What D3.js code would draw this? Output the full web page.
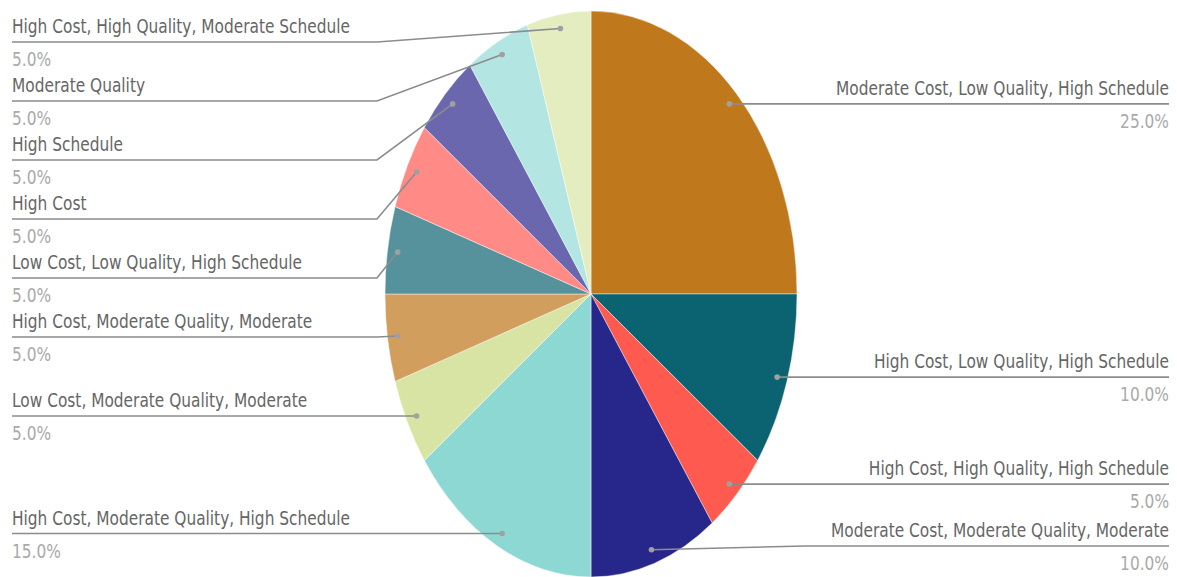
<!DOCTYPE html>
<html>
<head>
<meta charset="utf-8">
<script src="https://cdn.jsdelivr.net/npm/d3@7"></script>
<style>
  html, body { margin: 0; padding: 0; background: #fff; }
  svg { display: block; }
  .lbl { font-family: "DejaVu Sans", Verdana, sans-serif; }
</style>
</head>
<body>
<svg id="chart" width="1177" height="577"></svg>
<script>
// Share of projects by cost / quality / schedule profile
const categories = [
  "Moderate Cost, Low Quality, High Schedule",
  "High Cost, Low Quality, High Schedule",
  "High Cost, High Quality, High Schedule",
  "Moderate Cost, Moderate Quality, Moderate",
  "High Cost, Moderate Quality, High Schedule",
  "Low Cost, Moderate Quality, Moderate",
  "High Cost, Moderate Quality, Moderate",
  "Low Cost, Low Quality, High Schedule",
  "High Cost",
  "High Schedule",
  "Moderate Quality",
  "High Cost, High Quality, Moderate Schedule"
];
const values = [25, 10, 5, 10, 15, 5, 5, 5, 5, 5, 5, 5];
const colors = [
  "#c0781c", "#0b6270", "#ff5a50", "#27268a", "#8ed8d4", "#d8e4a4",
  "#d19e5e", "#55929c", "#ff8a86", "#6a67ae", "#b3e6e2", "#e3edc0"
];

const W = 1177, H = 577;
const cx = 591, cy = 294, rx = 206, ry = 283;
const sy = 1.24;            // vertical stretch applied to the text
const fontSize = 15.4;
const gap = 59;             // minimum vertical distance between label rows
const yMin = 42, yMax = 546;
const elbowOff = 214;
const leftX = 12, rightX = 1169;

const svg = d3.select("#chart");
const total = d3.sum(values);
const fmt = d3.format(".1f");

const data = categories.map((c, i) => ({ name: c, value: values[i], color: colors[i] }));
const pie = d3.pie().sort(null).value(d => d.value);
const arcs = pie(data);

const arc = d3.arc().innerRadius(0).outerRadius(1);

// Elliptical pie: unit-radius arcs scaled into place
const pieG = svg.append("g")
  .attr("transform", `translate(${cx},${cy}) scale(${rx},${ry})`);
pieG.selectAll("path")
  .data(arcs)
  .join("path")
  .attr("d", arc)
  .attr("fill", d => d.data.color)
  .attr("stroke", "rgba(255,255,255,0.55)")
  .attr("stroke-width", 0.8)
  .attr("vector-effect", "non-scaling-stroke");

// Anchor point of each label on its slice
arcs.forEach(d => {
  const a = (d.startAngle + d.endAngle) / 2;
  d.ax = cx + 0.95 * rx * Math.sin(a);
  d.ay = cy - 0.95 * ry * Math.cos(a);
  d.side = Math.sin(a) < 0 ? "left" : "right";
});

// Spread labels vertically on each side so rows never overlap
["left", "right"].forEach(side => {
  const list = arcs.filter(d => d.side === side).sort((a, b) => a.ay - b.ay);
  let prev = -Infinity;
  list.forEach(d => {
    d.ly = Math.max(d.ay, prev + gap, yMin);
    prev = d.ly;
  });
  let next = Infinity;
  for (let i = list.length - 1; i >= 0; i--) {
    const d = list[i];
    d.ly = Math.min(d.ly, next - gap, yMax);
    next = d.ly;
  }
});

const labG = svg.append("g");

// Leader lines
labG.selectAll("polyline")
  .data(arcs)
  .join("polyline")
  .attr("points", d => {
    const ex = d.side === "left" ? cx - elbowOff : cx + elbowOff;
    const endX = d.side === "left" ? leftX : rightX;
    return [[d.ax, d.ay], [ex, d.ly], [endX, d.ly]].map(p => p.join(",")).join(" ");
  })
  .attr("fill", "none")
  .attr("stroke", "#8c8c8c")
  .attr("stroke-width", 1.6);

labG.selectAll("circle")
  .data(arcs)
  .join("circle")
  .attr("cx", d => d.ax)
  .attr("cy", d => d.ay)
  .attr("r", 2.8)
  .attr("fill", "#a0a0a0");

// Category names and percentages
const textG = labG.selectAll("g.t")
  .data(arcs)
  .join("g")
  .attr("class", "t");

textG.append("text")
  .attr("class", "lbl")
  .attr("transform", d => `translate(${d.side === "left" ? leftX : rightX},${d.ly - 9}) scale(1,${sy})`)
  .attr("text-anchor", d => d.side === "left" ? "start" : "end")
  .attr("font-size", fontSize)
  .attr("fill", "#666")
  .text(d => d.data.name);

textG.append("text")
  .attr("class", "lbl")
  .attr("transform", d => `translate(${d.side === "left" ? leftX : rightX},${d.ly + 24}) scale(1,${sy})`)
  .attr("text-anchor", d => d.side === "left" ? "start" : "end")
  .attr("font-size", fontSize)
  .attr("fill", "#aaa")
  .text(d => fmt(d.data.value / total * 100) + "%");
</script>
</body>
</html>
